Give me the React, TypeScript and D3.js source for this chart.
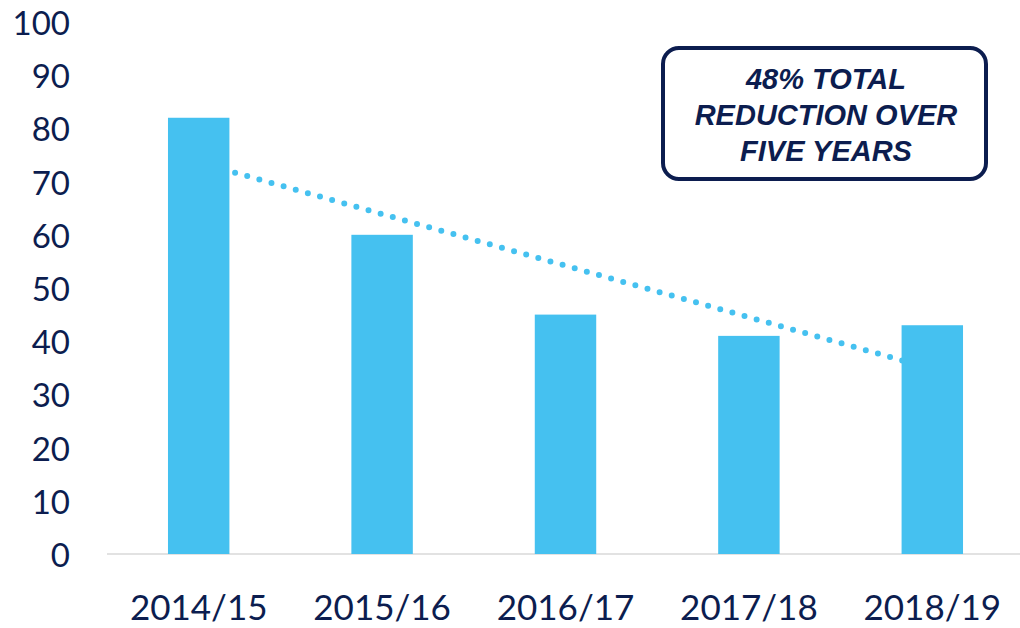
import React from 'react';
import * as d3 from 'd3';

const YEARS = ["2014/15", "2015/16", "2016/17", "2017/18", "2018/19"];
const VALUES = [82, 60, 45, 41, 43];
const Y_TICKS = [0, 10, 20, 30, 40, 50, 60, 70, 80, 90, 100];
const CALLOUT_LINES = ["48% TOTAL", "REDUCTION OVER", "FIVE YEARS"];

const NAVY = "#0c1d4f";
const BAR = "#45c1f0";

const width = 1020;
const height = 628;

const App: React.FC = () => {
    const x = d3.scaleBand<string>()
        .domain(YEARS)
        .range([107, 1024])
        .paddingInner(0.665)
        .paddingOuter(0.3325);

    const y = d3.scaleLinear()
        .domain([0, 100])
        .range([554, 22]);

    // linear trend line (least squares) over the bars
    const n = VALUES.length;
    const xs = VALUES.map((_, i) => i + 1);
    const mx = d3.mean(xs) || 0;
    const my = d3.mean(VALUES) || 0;
    const slope = d3.sum(xs.map((xi, i) => (xi - mx) * (VALUES[i] - my))) / d3.sum(xs.map(xi => (xi - mx) ** 2));
    const trendStart = my + slope * (1 - mx);
    const trendEnd = my + slope * (n - mx);

    const cx = (k: string) => (x(k) || 0) + x.bandwidth() / 2;

    const trendLine = d3.line<[number, number]>()
        .x(d => d[0])
        .y(d => y(d[1]))([
            [cx(YEARS[0]), trendStart],
            [cx(YEARS[n - 1]), trendEnd]
        ]);

    return (
        <div style={{ position: 'absolute', left: 0, top: 0 }}>
            <svg width={width} height={height} style={{ display: 'block', background: '#fff' }}>
                {Y_TICKS.map(t => (
                    <text
                        key={t}
                        x={70}
                        y={y(t)}
                        textAnchor="end"
                        dominantBaseline="central"
                        fontFamily="Lato, sans-serif"
                        fontSize="33px"
                        fill={NAVY}
                    >
                        {t}
                    </text>
                ))}

                <line x1={107} x2={1020} y1={y(0)} y2={y(0)} stroke="#d9d9d9" strokeWidth={1.5} />

                <path
                    d={trendLine || ""}
                    fill="none"
                    stroke={BAR}
                    strokeWidth={6}
                    strokeLinecap="round"
                    strokeDasharray="0 12.6"
                />

                {YEARS.map((yr, i) => (
                    <rect
                        key={yr}
                        x={x(yr)}
                        y={y(VALUES[i])}
                        width={x.bandwidth()}
                        height={y(0) - y(VALUES[i])}
                        fill={BAR}
                    />
                ))}

                {YEARS.map(yr => (
                    <text
                        key={yr}
                        x={cx(yr)}
                        y={606}
                        textAnchor="middle"
                        dominantBaseline="central"
                        fontFamily="Lato, sans-serif"
                        fontSize="35px"
                        fill={NAVY}
                    >
                        {yr}
                    </text>
                ))}

                <g>
                    <rect x={663} y={48} width={323} height={131} rx={16} fill="#fff" stroke={NAVY} strokeWidth={4} />
                    {CALLOUT_LINES.map((line, i) => (
                        <text
                            key={line}
                            x={826}
                            y={89 + i * 36}
                            textAnchor="middle"
                            fontFamily="'Liberation Sans', Arial, sans-serif"
                            fontWeight="bold"
                            fontStyle="italic"
                            fontSize="29px"
                            fill={NAVY}
                        >
                            {line}
                        </text>
                    ))}
                </g>
            </svg>
        </div>
    );
};

export default App;
